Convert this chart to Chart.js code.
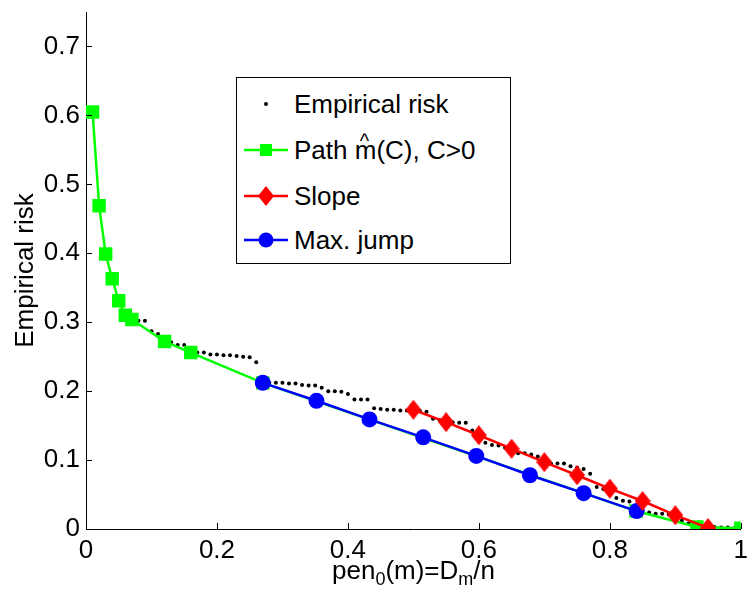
<!DOCTYPE html>
<html>
<head>
<meta charset="utf-8">
<script src="https://cdn.jsdelivr.net/npm/chart.js@4.4.1/dist/chart.umd.min.js"></script>
<style>
  html, body { margin: 0; padding: 0; background: #fff; }
  #wrap { position: relative; width: 748px; height: 592px; font-family: "Liberation Sans", Arial, sans-serif; color: #000; }
  #legend { position: absolute; left: 236px; top: 77px; width: 273px; height: 185px; border: 1.5px solid #000; background: #fff; }
  .row { position: absolute; left: 0; width: 273px; height: 30px; }
  .row svg { position: absolute; left: 7px; top: 0; }
  .row span.t { position: absolute; left: 57px; top: 0; font-size: 26px; line-height: 30px; white-space: nowrap; }
  .hat { position: relative; display: inline-block; }
  .hat i { position: absolute; left: 5px; top: -9px; font-style: normal; font-size: 20px; }
  #xtitle { position: absolute; left: 86px; width: 655px; top: 555px; text-align: center; font-size: 26px; line-height: 30px; white-space: nowrap; }
  #xtitle sub { font-size: 18px; vertical-align: -6px; line-height: 0; }
</style>
</head>
<body>
<div id="wrap">
  <canvas id="grafico" width="748" height="592"></canvas>
  <div id="legend">
    <div class="row" style="top:11px">
      <svg width="44" height="30"><circle cx="22" cy="15" r="2" fill="#000"/></svg>
      <span class="t">Empirical risk</span>
    </div>
    <div class="row" style="top:57px">
      <svg width="44" height="30"><line x1="0" y1="15" x2="44" y2="15" stroke="#00ff00" stroke-width="2.5"/><rect x="16" y="9" width="12" height="12" fill="#00ff00"/></svg>
      <span class="t">Path <span class="hat">m<i>^</i></span>(C), C&gt;0</span>
    </div>
    <div class="row" style="top:103px">
      <svg width="44" height="30"><line x1="0" y1="15" x2="44" y2="15" stroke="#ff0000" stroke-width="2.5"/><polygon points="22,5 30,15 22,25 14,15" fill="#ff0000"/></svg>
      <span class="t">Slope</span>
    </div>
    <div class="row" style="top:147px">
      <svg width="44" height="30"><line x1="0" y1="15" x2="44" y2="15" stroke="#0000ff" stroke-width="2.5"/><circle cx="22" cy="15" r="7.5" fill="#0000ff"/></svg>
      <span class="t">Max. jump</span>
    </div>
  </div>
  <div id="xtitle">pen<sub>0</sub>(m)=D<sub>m</sub>/n</div>
</div>
<script>
// ─── Dados ────────────────────────────────────────────────────────────────────
const empX = [
  0.01, 0.02, 0.03, 0.04, 0.05, 0.06, 0.07, 0.08, 0.09, 0.10,
  0.11, 0.12, 0.13, 0.14, 0.15, 0.16, 0.17, 0.18, 0.19, 0.20,
  0.21, 0.22, 0.23, 0.24, 0.25, 0.26, 0.27, 0.28, 0.29, 0.30,
  0.31, 0.32, 0.33, 0.34, 0.35, 0.36, 0.37, 0.38, 0.39, 0.40,
  0.41, 0.42, 0.43, 0.44, 0.45, 0.46, 0.47, 0.48, 0.49, 0.50,
  0.51, 0.52, 0.53, 0.54, 0.55, 0.56, 0.57, 0.58, 0.59, 0.60,
  0.61, 0.62, 0.63, 0.64, 0.65, 0.66, 0.67, 0.68, 0.69, 0.70,
  0.71, 0.72, 0.73, 0.74, 0.75, 0.76, 0.77, 0.78, 0.79, 0.80,
  0.81, 0.82, 0.83, 0.84, 0.85, 0.86, 0.87, 0.88, 0.89, 0.90,
  0.91, 0.92, 0.93, 0.94, 0.95, 0.96, 0.97, 0.98, 0.99, 1.00,
];
const empY = [
  0.605, 0.469, 0.399, 0.363, 0.331, 0.310, 0.304, 0.302, 0.302, 0.287,
  0.283, 0.272, 0.271, 0.267, 0.267, 0.256, 0.256, 0.256, 0.253, 0.253,
  0.252, 0.252, 0.251, 0.250, 0.249, 0.242, 0.212, 0.212, 0.212, 0.212,
  0.211, 0.211, 0.209, 0.208, 0.208, 0.205, 0.200, 0.200, 0.199, 0.196,
  0.188, 0.188, 0.188, 0.175, 0.174, 0.173, 0.173, 0.172, 0.172, 0.172,
  0.171, 0.170, 0.160, 0.158, 0.156, 0.155, 0.154, 0.154, 0.143, 0.136,
  0.125, 0.122, 0.121, 0.118, 0.115, 0.110, 0.110, 0.108, 0.105, 0.098,
  0.095, 0.095, 0.095, 0.091, 0.089, 0.087, 0.080, 0.061, 0.058, 0.050,
  0.045, 0.041, 0.040, 0.032, 0.027, 0.024, 0.022, 0.022, 0.021, 0.016,
  0.012, 0.008, 0.005, 0.004, 0.003, 0.003, 0.002, 0.002, 0.001, 0.000,
];

const pathX = [0.01, 0.02, 0.03, 0.04, 0.05, 0.06, 0.07, 0.12, 0.16, 0.27, 0.84, 0.933, 1.00];
const pathY = [0.605, 0.469, 0.399, 0.363, 0.331, 0.310, 0.304, 0.272, 0.256, 0.212, 0.026, 0.003, 0.001];

const slopeX = [0.50, 0.55, 0.60, 0.65, 0.70, 0.75, 0.80, 0.85, 0.90, 0.95];
const slopeY = [0.173, 0.155, 0.136, 0.1165, 0.097, 0.078, 0.0585, 0.0406, 0.020, 0.0014];

const jumpX = [0.270, 0.352, 0.433, 0.515, 0.596, 0.678, 0.760, 0.841];
const jumpY = [0.212, 0.186, 0.159, 0.133, 0.106, 0.078, 0.052, 0.026];

const xTicks = [0, 0.2, 0.4, 0.6, 0.8, 1];
const yTicks = [0, 0.1, 0.2, 0.3, 0.4, 0.5, 0.6, 0.7];

const pares = (xs, ys) => xs.map((x, i) => ({ x, y: ys[i] }));

// Losango mais alto que largo, como no MATLAB
function losango(w, h, cor) {
  const c = document.createElement('canvas');
  c.width = w; c.height = h;
  const g = c.getContext('2d');
  g.fillStyle = cor;
  g.beginPath();
  g.moveTo(w / 2, 0); g.lineTo(w, h / 2); g.lineTo(w / 2, h); g.lineTo(0, h / 2);
  g.closePath(); g.fill();
  return c;
}

// Marcas de escala para dentro (estilo MATLAB)
const ticksInternos = {
  id: 'ticksInternos',
  afterDraw(chart) {
    const { ctx, scales: { x, y } } = chart;
    ctx.save();
    ctx.strokeStyle = '#000';
    ctx.lineWidth = 1;
    ctx.beginPath();
    x.ticks.forEach(t => {
      const px = Math.round(x.getPixelForValue(t.value)) + 0.5;
      ctx.moveTo(px, y.bottom); ctx.lineTo(px, y.bottom - 6);
    });
    y.ticks.forEach(t => {
      const py = Math.round(y.getPixelForValue(t.value)) + 0.5;
      ctx.moveTo(x.left, py); ctx.lineTo(x.left + 6, py);
    });
    ctx.stroke();
    ctx.restore();
  },
};

const familia = '"Liberation Sans", Arial, sans-serif';
// lineHeight ajustado só para o Chart.js não reservar margem extra
const fonteX = { family: familia, size: 26, lineHeight: 1.65 };
const fonteY = { family: familia, size: 26, lineHeight: 0.4 };
const fonteTitulo = { family: familia, size: 26 };

new Chart(document.getElementById('grafico'), {
  type: 'scatter',
  data: {
    datasets: [
      {
        label: 'Empirical risk',
        data: pares(empX, empY),
        showLine: false,
        pointRadius: 2,
        pointBorderWidth: 0,
        pointBackgroundColor: '#000',
        order: 4,
      },
      {
        label: 'Path',
        data: pares(pathX, pathY),
        showLine: true,
        borderColor: '#00ff00',
        borderWidth: 2.5,
        pointStyle: 'rect',
        pointRadius: 9.5,
        pointBorderWidth: 0,
        pointBackgroundColor: '#00ff00',
        order: 3,
      },
      {
        label: 'Slope',
        data: pares(slopeX, slopeY),
        showLine: true,
        borderColor: '#ff0000',
        borderWidth: 2.5,
        pointStyle: losango(16, 20, '#ff0000'),
        pointRadius: 9,
        order: 1,
      },
      {
        label: 'Max. jump',
        data: pares(jumpX, jumpY),
        showLine: true,
        borderColor: '#0000ff',
        borderWidth: 2.5,
        pointStyle: 'circle',
        pointRadius: 8,
        pointBorderWidth: 0,
        pointBackgroundColor: '#0000ff',
        order: 2,
      },
    ],
  },
  options: {
    responsive: false,
    animation: false,
    layout: { autoPadding: false, padding: { top: 12, right: 7, left: 0, bottom: 0 } },
    plugins: { legend: { display: false }, tooltip: { enabled: false } },
    scales: {
      x: {
        type: 'linear',
        min: 0,
        max: 1,
        grid: { display: false, drawTicks: false },
        border: { display: true, color: '#000', width: 1 },
        afterBuildTicks: s => { s.ticks = xTicks.map(v => ({ value: v })); },
        afterFit: s => { s.height = 63; },
        ticks: { color: '#000', font: fonteX, padding: 0, maxRotation: 0, callback: v => String(v) },
      },
      y: {
        type: 'linear',
        min: 0,
        max: 0.75,
        grid: { display: false, drawTicks: false },
        border: { display: true, color: '#000', width: 1 },
        afterBuildTicks: s => { s.ticks = yTicks.map(v => ({ value: v })); },
        afterFit: s => { s.width = 86; },
        ticks: { color: '#000', font: fonteY, padding: 6, callback: v => String(v) },
        title: { display: true, text: 'Empirical risk', color: '#000', font: fonteTitulo, padding: { top: 10, bottom: 0 } },
      },
    },
  },
  plugins: [ticksInternos],
});
</script>
</body>
</html>
